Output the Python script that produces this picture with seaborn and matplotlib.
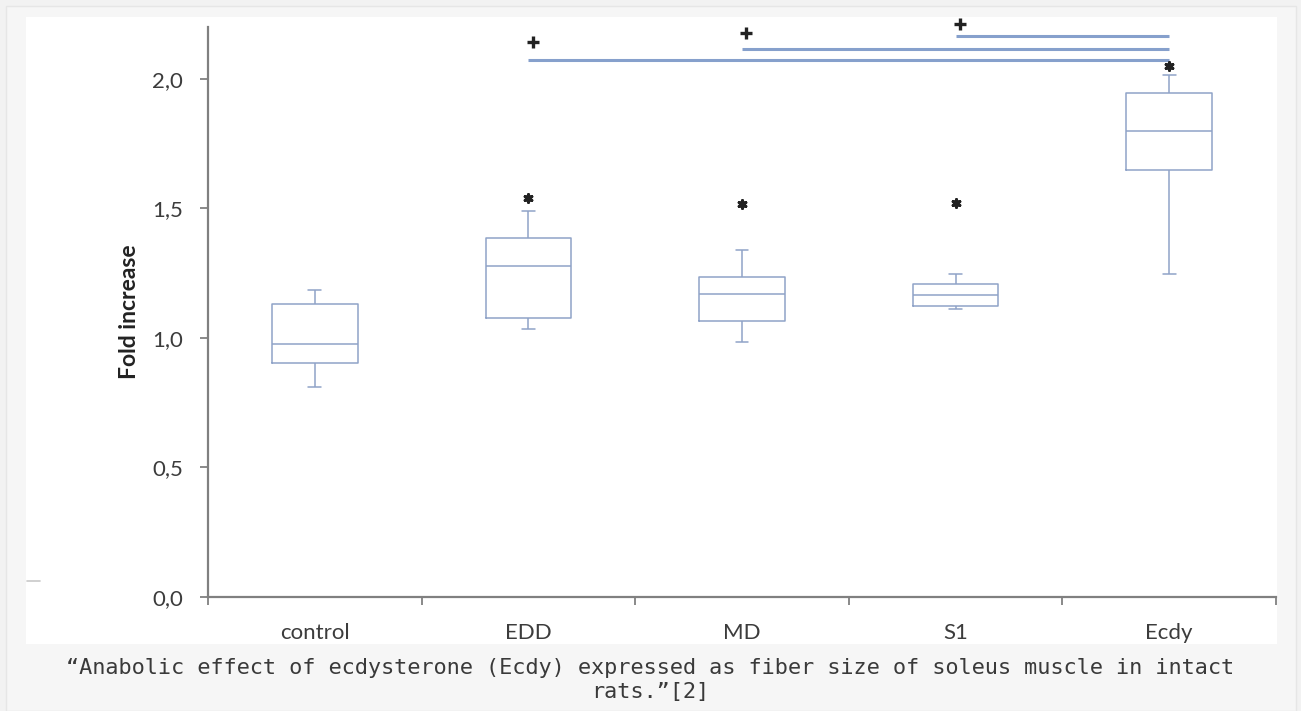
import numpy as np
import pandas as pd
import matplotlib
matplotlib.use("Agg")
import matplotlib.pyplot as plt
from matplotlib.patches import Rectangle
from matplotlib.lines import Line2D
import seaborn as sns

# ---- data ----
categories = ["control", "EDD", "MD", "S1", "Ecdy"]
whisker_low = [0.81, 1.035, 0.985, 1.112, 1.247]
q1 = [0.903, 1.077, 1.066, 1.124, 1.649]
median = [0.975, 1.278, 1.170, 1.166, 1.797]
q3 = [1.131, 1.386, 1.236, 1.208, 1.946]
whisker_high = [1.185, 1.490, 1.340, 1.247, 2.013]
asterisk_y = [np.nan, 1.54, 1.517, 1.52, 2.05]
plus_groups = ["EDD", "MD", "S1"]
plus_y = [2.143, 2.178, 2.212]
bracket_y = [2.073, 2.116, 2.166]
bracket_end = "Ecdy"
yticks = [0.0, 0.5, 1.0, 1.5, 2.0]
ytick_labels = ["0,0", "0,5", "1,0", "1,5", "2,0"]
caption = ("\u201cAnabolic effect of ecdysterone (Ecdy) expressed as fiber size of soleus muscle in intact\n"
           "rats.\u201d[2]")

# five-number summaries -> long-form frame
rows = []
for c, a, b, m, d, e in zip(categories, whisker_low, q1, median, q3, whisker_high):
    for v in (a, b, m, d, e):
        rows.append({"group": c, "value": v})
df = pd.DataFrame(rows)

sns.set_theme(style="white")
plt.rcParams["font.family"] = ["Lato", "DejaVu Sans"]

W, H = 1301, 711
fig = plt.figure(figsize=(W / 100, H / 100), dpi=100, facecolor="#f2f2f2")

def px_rect(x0, y0, x1, y1, z, **kw):
    fig.add_artist(Rectangle((x0 / W, 1 - y1 / H), (x1 - x0) / W, (y1 - y0) / H,
                             transform=fig.transFigure, zorder=z, **kw))

px_rect(6, 6, 1296, 711, -20, facecolor="#f6f6f6", edgecolor="#e6e6e6", linewidth=1)
px_rect(26, 17, 1277, 644, -10, facecolor="white", edgecolor="none")
fig.add_artist(Line2D([27 / W, 40 / W], [1 - 581 / H, 1 - 581 / H],
                      transform=fig.transFigure, color="#c8c8c8", linewidth=1.2, zorder=-5))

ax = fig.add_axes([208 / W, 1 - 597 / H, (1276 - 208) / W, (597 - 27) / H])
ax.set_facecolor("none")
ax.set_zorder(1)

box_col = "#8fa3c8"
sns.boxplot(data=df, x="group", y="value", order=categories, ax=ax,
            width=0.4, whis=(0, 100), fill=False, color=box_col,
            linecolor=box_col, linewidth=1.1, showfliers=False,
            capwidths=0.06,
            medianprops={"color": box_col, "linewidth": 1.1})

xpos = {c: i for i, c in enumerate(categories)}

# significance asterisks
ax.scatter([xpos[c] for c in categories], asterisk_y, marker=(6, 2, 0),
           s=30, color="#222222", linewidths=2.2, zorder=5)

# brackets and plus signs
line_col = "#86a0cc"
for g, yb in zip(plus_groups, bracket_y):
    ax.plot([xpos[g], xpos[bracket_end]], [yb, yb], color=line_col,
            linewidth=2.2, solid_capstyle="butt", clip_on=False, zorder=4)
ax.scatter([xpos[g] + 0.02 for g in plus_groups], plus_y, marker="+", s=75,
           color="#222222", linewidths=2.4, clip_on=False, zorder=5)

ax.set_xlim(-0.5, 4.5)
ax.set_ylim(0, 2.2)
ax.set_yticks(yticks)
ax.set_yticklabels(ytick_labels)
ax.set_xticks(range(len(categories)))
ax.set_xticklabels(categories)
ax.set_xticks(np.arange(-0.5, 4.6, 1.0), minor=True)
ax.tick_params(axis="x", which="major", length=0, pad=19, labelsize=16, labelcolor="#3c3c3c")
ax.tick_params(axis="x", which="minor", length=6, width=1.3, color="#808080",
               direction="out", bottom=True)
ax.tick_params(axis="y", which="major", length=6, width=1.3, color="#808080", direction="out",
               pad=12, labelsize=16, labelcolor="#3c3c3c", left=True)
ax.set_xlabel("")
ax.set_ylabel("Fold increase", fontsize=16.5, fontweight="bold", color="#222222", labelpad=9)

for s in ("top", "right"):
    ax.spines[s].set_visible(False)
for s in ("left", "bottom"):
    ax.spines[s].set_color("#808080")
    ax.spines[s].set_linewidth(1.6)

fig.text(650 / W, 1 - 680 / H, caption, ha="center", va="center",
         family=["DejaVu Sans Mono"], fontsize=15.75, color="#3a3a3a",
         linespacing=1.25)

fig.savefig("out.png", dpi=100, facecolor=fig.get_facecolor())
